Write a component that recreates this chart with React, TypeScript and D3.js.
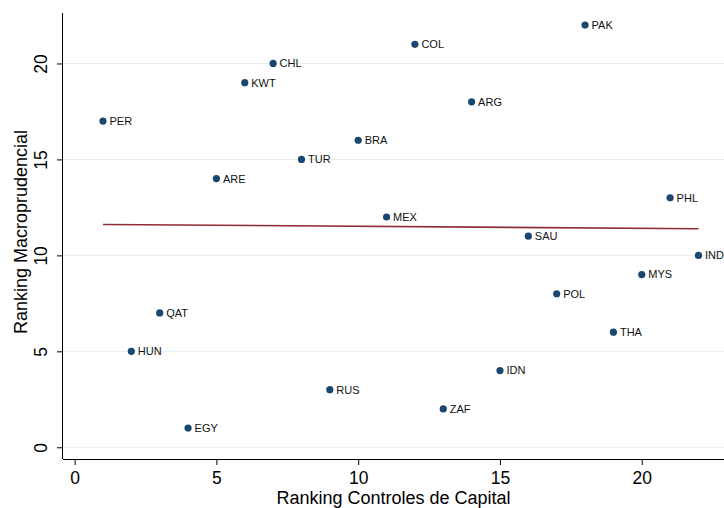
import React, { useRef, useEffect } from 'react';
import * as d3 from 'd3';

// country codes, capital controls ranking (x), macroprudential ranking (y)
const countries = ['PER', 'HUN', 'QAT', 'EGY', 'ARE', 'KWT', 'CHL', 'TUR', 'RUS', 'BRA', 'MEX',
  'COL', 'ZAF', 'ARG', 'IDN', 'SAU', 'POL', 'PAK', 'THA', 'MYS', 'PHL', 'IND'];
const capitalRank = [1, 2, 3, 4, 5, 6, 7, 8, 9, 10, 11, 12, 13, 14, 15, 16, 17, 18, 19, 20, 21, 22];
const macroRank = [17, 5, 7, 1, 14, 19, 20, 15, 3, 16, 12, 21, 2, 18, 4, 11, 8, 22, 6, 9, 13, 10];

const xTicks = [0, 5, 10, 15, 20];
const yTicks = [0, 5, 10, 15, 20];

const App = () => {
  const svgRef = useRef(null);

  useEffect(() => {
    document.body.style.margin = '0';

    const width = 724;
    const height = 508;
    const margin = { top: 13, right: 0, bottom: 49, left: 63 };
    const font = 'Arial, "Liberation Sans", Helvetica, sans-serif';

    const svg = d3.select(svgRef.current)
      .attr('width', width)
      .attr('height', height);

    svg.selectAll('*').remove();

    svg.append('rect')
      .attr('width', width)
      .attr('height', height)
      .attr('fill', '#ffffff');

    const x = d3.scaleLinear()
      .domain([-0.41, 22.9])
      .range([margin.left, width - margin.right]);

    const y = d3.scaleLinear()
      .domain([-0.61, 22.63])
      .range([height - margin.bottom, margin.top]);

    // grid lines
    svg.append('g')
      .selectAll('line')
      .data(yTicks)
      .join('line')
      .attr('x1', margin.left)
      .attr('x2', width - margin.right)
      .attr('y1', d => y(d))
      .attr('y2', d => y(d))
      .attr('stroke', '#e3eef1')
      .attr('stroke-width', 1);

    // linear fit
    const data = countries.map((c, i) => ({ name: c, x: capitalRank[i], y: macroRank[i] }));
    const mx = d3.mean(data, d => d.x);
    const my = d3.mean(data, d => d.y);
    const sxy = d3.sum(data, d => (d.x - mx) * (d.y - my));
    const sxx = d3.sum(data, d => (d.x - mx) * (d.x - mx));
    const slope = sxy / sxx;
    const intercept = my - slope * mx;
    const fitX = d3.extent(capitalRank);

    const line = d3.line()
      .x(d => x(d))
      .y(d => y(intercept + slope * d));

    svg.append('path')
      .datum(fitX)
      .attr('fill', 'none')
      .attr('stroke', '#8f2d35')
      .attr('stroke-width', 1.6)
      .attr('d', line);

    // points and labels
    const pts = svg.append('g');
    pts.selectAll('circle')
      .data(data)
      .join('circle')
      .attr('cx', d => x(d.x))
      .attr('cy', d => y(d.y))
      .attr('r', 3.6)
      .attr('fill', '#1a476f');

    pts.selectAll('text')
      .data(data)
      .join('text')
      .attr('x', d => x(d.x) + 6.5)
      .attr('y', d => y(d.y) + 3.9)
      .attr('font-family', font)
      .attr('font-size', 11)
      .attr('fill', '#111')
      .text(d => d.name);

    // axes
    const xAxis = svg.append('g')
      .attr('transform', `translate(0,${height - margin.bottom})`)
      .call(d3.axisBottom(x).tickValues(xTicks).tickSize(6).tickSizeOuter(0).tickPadding(7));
    xAxis.select('.domain').attr('stroke', '#000').attr('d', `M${margin.left},0.5H${width}`);
    xAxis.selectAll('.tick line').attr('stroke', '#000');
    xAxis.selectAll('.tick text')
      .attr('font-family', font)
      .attr('font-size', 17.5)
      .attr('fill', '#000');

    const yAxis = svg.append('g')
      .attr('transform', `translate(${margin.left},0)`)
      .call(d3.axisLeft(y).tickValues(yTicks).tickSize(6).tickSizeOuter(0));
    yAxis.select('.domain').attr('stroke', '#000').attr('d', `M-0.5,${margin.top}V${height - margin.bottom}`);
    yAxis.selectAll('.tick line').attr('stroke', '#000');
    yAxis.selectAll('.tick text')
      .attr('font-family', font)
      .attr('font-size', 17.5)
      .attr('fill', '#000')
      .attr('x', null)
      .attr('dy', null)
      .attr('text-anchor', 'middle')
      .attr('transform', 'translate(-16,0) rotate(-90)');

    // axis titles
    svg.append('text')
      .attr('x', (margin.left + width) / 2)
      .attr('y', height - 4)
      .attr('text-anchor', 'middle')
      .attr('font-family', font)
      .attr('font-size', 18)
      .attr('fill', '#000')
      .text('Ranking Controles de Capital');

    svg.append('text')
      .attr('x', -232)
      .attr('y', 27)
      .attr('text-anchor', 'middle')
      .attr('transform', 'rotate(-90)')
      .attr('font-family', font)
      .attr('font-size', 18)
      .attr('fill', '#000')
      .text('Ranking Macroprudencial');

  }, []);

  return (
    <svg ref={svgRef} style={{ display: 'block' }}></svg>
  );
};

export default App;
